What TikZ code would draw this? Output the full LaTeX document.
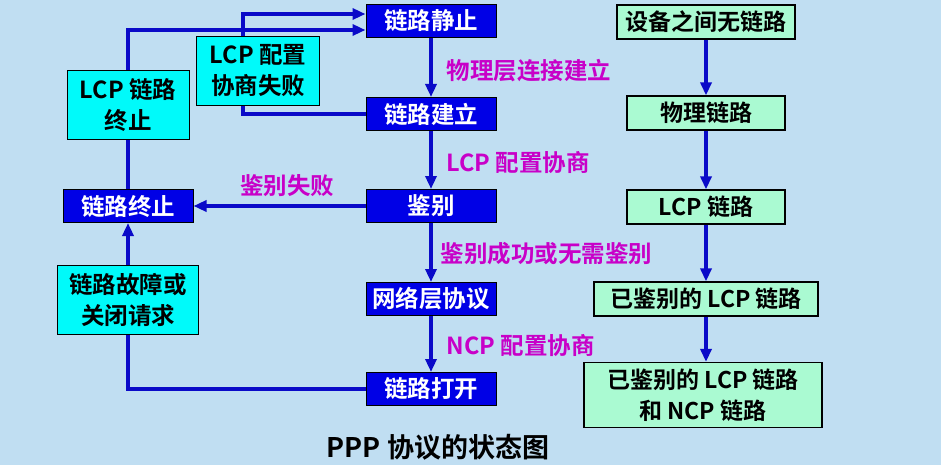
\documentclass[tikz,border=0pt]{standalone}
\usepackage{fontspec}
\setmainfont{Noto Sans CJK SC Bold}
\usetikzlibrary{arrows.meta}
\definecolor{bg}{RGB}{192,222,242}
\definecolor{bluebox}{RGB}{0,0,230}
\definecolor{lnc}{RGB}{10,10,200}
\definecolor{cyanbox}{RGB}{0,250,250}
\definecolor{greenbox}{RGB}{170,250,210}
\definecolor{mag}{RGB}{200,0,200}
\begin{document}
\begin{tikzpicture}[x=1pt,y=-1pt,
  st/.style={draw=black,line width=1pt,fill=bluebox,text=white,minimum width=130pt,minimum height=33pt,inner sep=0pt,font=\fontsize{23.5}{25}\selectfont},
  cy/.style={draw=black,line width=1pt,fill=cyanbox,text=black,minimum height=69pt,inner sep=0pt,align=center,font=\fontsize{23.5}{31}\selectfont},
  gr/.style={draw=black,line width=1.2pt,fill=greenbox,text=black,minimum height=34pt,inner sep=0pt,align=center,font=\fontsize{23}{31}\selectfont},
  ar/.style={draw=lnc,line width=3.5pt,-{Triangle[length=13pt,width=11pt]}},
  ln/.style={draw=lnc,line width=3.5pt},
  lab/.style={text=mag,anchor=west,font=\fontsize{23.5}{25}\selectfont}]
\useasboundingbox (0,0) rectangle (941,465);
\fill[bg] (0,0) rectangle (941,465);
\coordinate (k1) at (243,0);
\node[st] (s1) at (431,21) {链路静止};
\node[st] (s2) at (431,114) {链路建立};
\node[st] (s3) at (431,206) {鉴别};
\node[st] (s4) at (431,299) {网络层协议};
\node[st] (s5) at (431,389) {链路打开};
\node[st] (s6) at (128,206) {链路终止};
\node[cy,minimum width=122pt] (c1) at (128,105) {LCP 链路\\终止};
\node[cy,minimum width=123pt] (c2) at (258,71) {LCP 配置\\协商失败};
\node[cy,minimum width=141pt] (c3) at (128,300) {链路故障或\\关闭请求};
\node[gr,minimum width=178pt] (g1) at (706,22) {设备之间无链路};
\node[gr,minimum width=158pt] (g2) at (706,113) {物理链路};
\node[gr,minimum width=158pt] (g3) at (706,207) {LCP 链路};
\node[gr,minimum width=224pt] (g4) at (706,299) {已鉴别的 LCP 链路};
\node[gr,minimum width=238pt,minimum height=65pt] (g5) at (703,395) {已鉴别的 LCP 链路\\和 NCP 链路};
\draw[ar] (s1) -- (s2);
\draw[ar] (s2) -- (s3);
\draw[ar] (s3) -- (s4);
\draw[ar] (s4) -- (s5);
\node[lab] (l1) at (443,71) {物理层连接建立};
\node[lab] (l2) at (443,163) {LCP 配置协商};
\node[lab] (l3) at (437,254) {鉴别成功或无需鉴别};
\node[lab] (l4) at (443,346) {NCP 配置协商};
\draw[ar] (s3) -- (s6);
\node[text=mag,font=\fontsize{23.5}{25}\selectfont] (l5) at (287,186) {鉴别失败};
\draw[ln] (s5.west) -| (c3.south);
\draw[ar] (c3.north) -- (s6.south);
\draw[ln] (s6.north) -- (c1.south);
\draw[ar] (c1.north) |- ([yshift=-9pt]s1.west);
\draw[ln] (s2.west) -| (k1 |- c2.south);
\draw[ar] (k1 |- c2.north) |- ([yshift=7pt]s1.west);
\draw[ar] (g1) -- (g2);
\draw[ar] (g2) -- (g3);
\draw[ar] (g3) -- (g4);
\draw[ar] (g4) -- (g5.north -| g4);
\node[font=\fontsize{27}{30}\selectfont] (t) at (438,447) {PPP 协议的状态图};
\end{tikzpicture}
\end{document}
